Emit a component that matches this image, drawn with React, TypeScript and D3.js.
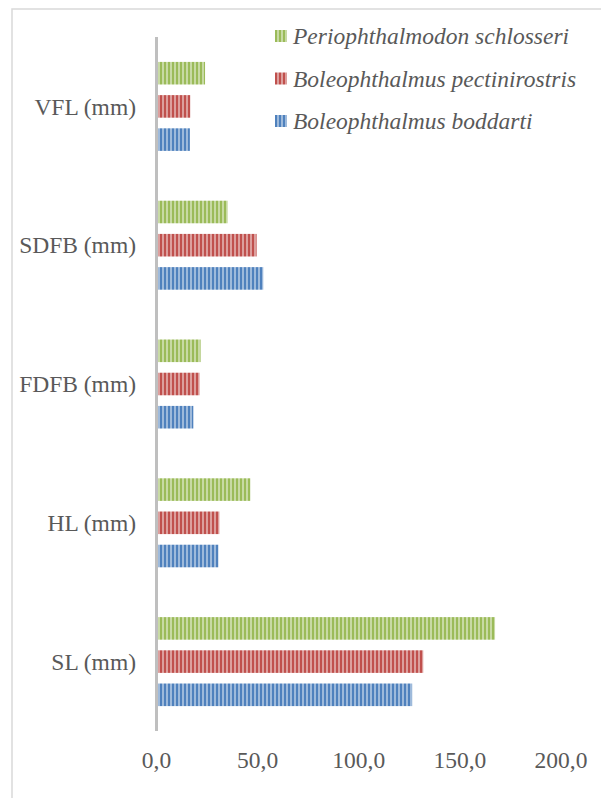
import React, { useEffect, useRef } from "react";
import * as d3 from "d3";

// categories, bottom to top as drawn
const categories = ["VFL (mm)", "SDFB (mm)", "FDFB (mm)", "HL (mm)", "SL (mm)"];

// series, top to bottom within a group
const seriesNames = [
  "Periophthalmodon schlosseri",
  "Boleophthalmus pectinirostris",
  "Boleophthalmus boddarti",
];
const seriesColors = ["#9bbb59", "#c0504d", "#4f81bd"];

const schlosseri = [24.0, 35.2, 21.8, 46.4, 167.4];
const pectinirostris = [16.7, 49.5, 21.3, 31.1, 131.9];
const boddarti = [16.5, 52.8, 18.2, 30.6, 126.4];

const xTicks = [0, 50, 100, 150, 200];

const App = () => {
  const svgRef = useRef<SVGSVGElement>(null);
  const width = 601;
  const height = 798;

  useEffect(() => {
    const svg = d3.select(svgRef.current);
    svg.selectAll("*").remove();

    const font = "'Liberation Serif', 'Times New Roman', serif";
    const textColor = "#595959";

    // outer chart border (runs off the right/bottom of the window)
    svg
      .append("rect")
      .attr("x", 12)
      .attr("y", 9)
      .attr("width", 620)
      .attr("height", 820)
      .attr("fill", "white")
      .attr("stroke", "#d9d9d9")
      .attr("stroke-width", 1.5);

    // striped fills
    const defs = svg.append("defs");
    seriesColors.forEach((c, i) => {
      const light = d3.interpolateRgb(c, "#ffffff")(0.45);
      const p = defs
        .append("pattern")
        .attr("id", `stripe${i}`)
        .attr("patternUnits", "userSpaceOnUse")
        .attr("width", 4)
        .attr("height", 4);
      p.append("rect").attr("width", 4).attr("height", 4).attr("fill", light);
      p.append("rect").attr("width", 2).attr("height", 4).attr("fill", c);
    });

    const x = d3.scaleLinear().domain([0, 200]).range([156.5, 561]);

    const y0 = d3
      .scaleBand()
      .domain(categories)
      .range([37, 731])
      .padding(0);

    const y1 = d3
      .scaleBand()
      .domain(seriesNames)
      .range([0, y0.bandwidth()])
      .paddingInner(0.32)
      .paddingOuter(0.75);

    const values = [schlosseri, pectinirostris, boddarti];

    // bars
    categories.forEach((cat, ci) => {
      seriesNames.forEach((s, si) => {
        svg
          .append("rect")
          .attr("x", x(0) + 1.5)
          .attr("y", (y0(cat) ?? 0) + (y1(s) ?? 0))
          .attr("width", x(values[si][ci]) - x(0) - 1.5)
          .attr("height", y1.bandwidth())
          .attr("fill", `url(#stripe${si})`);
      });
    });

    // vertical axis line
    svg
      .append("line")
      .attr("x1", x(0))
      .attr("x2", x(0))
      .attr("y1", 37)
      .attr("y2", 731)
      .attr("stroke", "#bfbfbf")
      .attr("stroke-width", 3);

    // category labels
    svg
      .selectAll(".cat")
      .data(categories)
      .enter()
      .append("text")
      .attr("x", 136)
      .attr("y", (d) => (y0(d) ?? 0) + y0.bandwidth() / 2)
      .attr("dy", "0.35em")
      .attr("text-anchor", "end")
      .style("font-family", font)
      .style("font-size", "23.5px")
      .attr("fill", textColor)
      .text((d) => d);

    // x tick labels
    svg
      .selectAll(".tick")
      .data(xTicks)
      .enter()
      .append("text")
      .attr("x", (d) => x(d))
      .attr("y", 760)
      .attr("dy", "0.35em")
      .attr("text-anchor", "middle")
      .style("font-family", font)
      .style("font-size", "23.5px")
      .attr("fill", textColor)
      .text((d) => d3.format(".1f")(d).replace(".", ","));

    // legend
    const legend = svg.append("g").attr("transform", "translate(275, 36)");
    seriesNames.forEach((s, i) => {
      const row = legend.append("g").attr("transform", `translate(0, ${i * 42.5})`);
      row
        .append("rect")
        .attr("y", -6)
        .attr("width", 12)
        .attr("height", 12)
        .attr("fill", `url(#stripe${i})`);
      row
        .append("text")
        .attr("x", 18)
        .attr("y", 0)
        .attr("dy", "0.35em")
        .style("font-family", font)
        .style("font-size", "23.5px")
        .style("font-style", "italic")
        .attr("fill", textColor)
        .text(s);
    });
  }, []);

  return (
    <svg
      ref={svgRef}
      width={width}
      height={height}
      style={{ position: "absolute", left: 0, top: 0 }}
    ></svg>
  );
};

export default App;
